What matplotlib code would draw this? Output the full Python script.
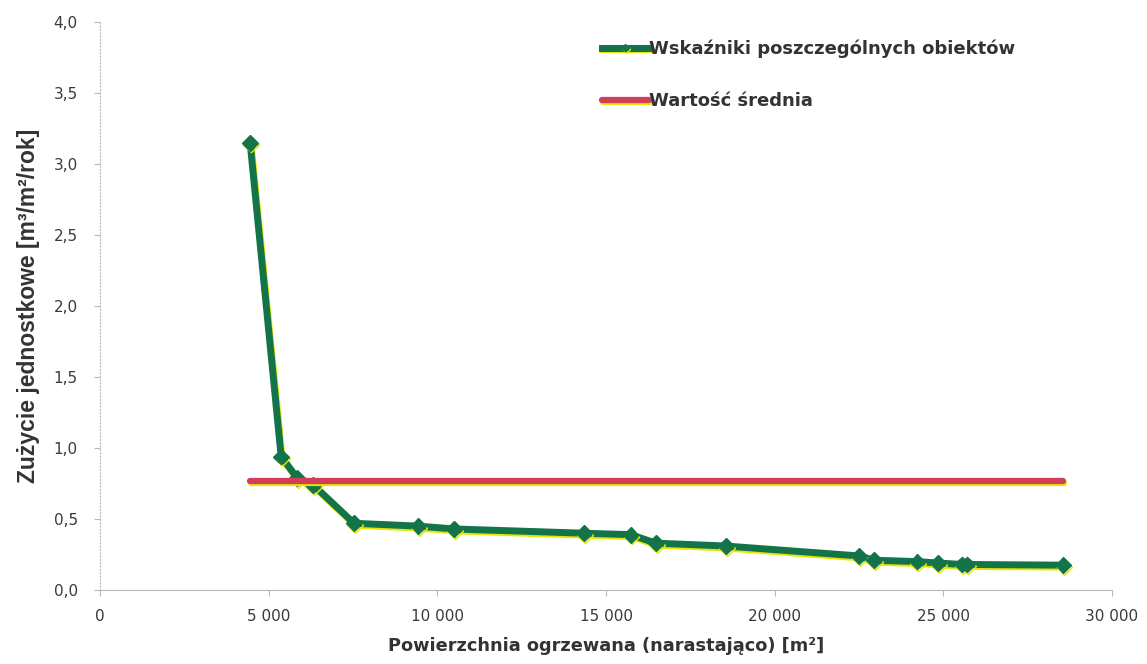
import matplotlib
matplotlib.use("Agg")
import matplotlib.pyplot as plt
import matplotlib.patheffects as pe
from matplotlib.ticker import FuncFormatter

# Data
area_cum = [4450, 5370, 5840, 6320, 7530, 9440, 10500, 14350, 15730, 16480,
            18550, 22500, 22950, 24230, 24850, 25550, 25700, 28560]
indicator = [3.15, 0.94, 0.79, 0.74, 0.47, 0.45, 0.43, 0.40, 0.39, 0.33,
             0.31, 0.24, 0.21, 0.20, 0.19, 0.18, 0.18, 0.175]
mean_value = 0.765

label_series = "Wskaźniki poszczególnych obiektów"
label_mean = "Wartość średnia"
x_label = "Powierzchnia ogrzewana (narastająco) [m²]"
y_label = "Zużycie jednostkowe [m³/m²/rok]"

green = "#13744a"
red = "#d23d5a"
shadow = "#e6e600"

fig = plt.figure(figsize=(11.47, 6.64), dpi=100)
ax = fig.add_axes([0.0872, 0.1114, 0.8823, 0.8555])

ax.plot(area_cum, indicator, color=green, lw=5, marker="D", markersize=8,
        markerfacecolor=green, markeredgecolor=green, label=label_series, zorder=2,
        path_effects=[pe.SimpleLineShadow(offset=(0.7, -1.4), shadow_color=shadow, alpha=1),
                      pe.Normal()])

mean_x = [area_cum[0], area_cum[-1]]
ax.plot(mean_x, [mean_value, mean_value], color=red, lw=4.5, solid_capstyle="round",
        label=label_mean, zorder=3,
        path_effects=[pe.SimpleLineShadow(offset=(0.5, -1.4), shadow_color=shadow, alpha=1),
                      pe.Normal()])

ax.set_xlim(0, 30000)
ax.set_ylim(0, 4.0)
ax.set_xticks(range(0, 30001, 5000))
ax.set_yticks([i * 0.5 for i in range(9)])
ax.xaxis.set_major_formatter(FuncFormatter(lambda v, p: f"{int(v):,}".replace(",", " ")))
ax.yaxis.set_major_formatter(FuncFormatter(lambda v, p: f"{v:.1f}".replace(".", ",")))

for s in ["top", "right"]:
    ax.spines[s].set_visible(False)
for s in ["left", "bottom"]:
    ax.spines[s].set_color("#b8b8b8")
    ax.spines[s].set_linewidth(0.8)
ax.spines["left"].set_linestyle((0, (1, 2)))
ax.tick_params(axis="both", colors="#b8b8b8", labelcolor="#3a3a3a", labelsize=11,
               length=4, width=0.8)
ax.tick_params(axis="x", pad=10)
ax.tick_params(axis="y", pad=12)

ax.set_xlabel(x_label, fontsize=12.8, fontweight="bold", color="#333333", labelpad=9)
ax.set_ylabel(y_label, fontsize=16.5, fontweight="bold", color="#333333",
              family="Liberation Sans", labelpad=10)

handles, labels = ax.get_legend_handles_labels()
leg = ax.legend(handles, labels, loc="upper left", bbox_to_anchor=(0.48, 0.998),
                frameon=False, handlelength=2.6, handletextpad=0.0, labelspacing=1.9,
                prop={"family": "DejaVu Sans", "weight": "bold", "size": 13})
for t in leg.get_texts():
    t.set_color("#333333")
for h in leg.legend_handles:
    h.set_markersize(4)

fig.savefig("out.png", dpi=100)
